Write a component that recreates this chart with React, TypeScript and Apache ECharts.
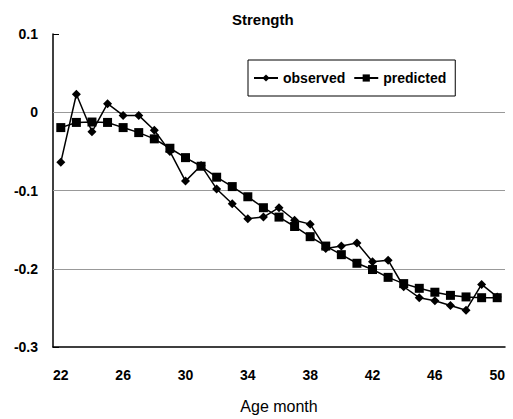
import React, { useEffect, useRef } from "react";
import * as echarts from "echarts";

const months = ["22","23","24","25","26","27","28","29","30","31","32","33","34","35","36","37","38","39","40","41","42","43","44","45","46","47","48","49","50"];
const observed = [-0.064, 0.023, -0.025, 0.011, -0.004, -0.004, -0.023, -0.05, -0.088, -0.068, -0.098, -0.117, -0.136, -0.134, -0.122, -0.138, -0.143, -0.174, -0.171, -0.167, -0.191, -0.189, -0.223, -0.237, -0.241, -0.247, -0.253, -0.22, -0.236];
const predicted = [-0.0196, -0.013, -0.0125, -0.013, -0.0196, -0.026, -0.034, -0.046, -0.058, -0.069, -0.083, -0.095, -0.108, -0.122, -0.134, -0.146, -0.159, -0.171, -0.182, -0.193, -0.201, -0.211, -0.219, -0.225, -0.23, -0.234, -0.236, -0.237, -0.237];
const gridValues = [0, -0.1, -0.2];

const FONT = "'Liberation Sans', Arial, sans-serif";

export default function App() {
  const ref = useRef<HTMLDivElement>(null);
  useEffect(() => {
    if (!ref.current) return;
    const chart = echarts.init(ref.current, null, { renderer: "svg" });
    chart.setOption({
      animation: false,
      backgroundColor: "#ffffff",
      title: {
        text: "Strength",
        left: 227,
        top: 7,
        textStyle: { fontFamily: FONT, fontSize: 15, fontWeight: "bold", color: "#000" },
      },
      legend: {
        left: 248,
        top: 60,
        orient: "horizontal",
        borderColor: "#000",
        borderWidth: 1,
        padding: [11, 9, 11, 5],
        itemGap: 8,
        itemWidth: 24,
        itemHeight: 9,
        textStyle: { fontFamily: FONT, fontSize: 14, fontWeight: "bold", color: "#000" },
        data: ["observed", "predicted"],
      },
      grid: { left: 53, top: 34, width: 452, height: 317, containLabel: false },
      xAxis: {
        type: "category",
        data: months,
        boundaryGap: true,
        name: "Age month",
        nameLocation: "middle",
        nameGap: 51,
        nameTextStyle: { fontFamily: FONT, fontSize: 16, color: "#000" },
        axisLine: { onZero: false, lineStyle: { color: "#000", width: 1.5 } },
        axisTick: { inside: true, length: 6, interval: 3, lineStyle: { color: "#000" } },
        axisLabel: { interval: 3, margin: 21, fontFamily: FONT, fontSize: 14, fontWeight: "bold", color: "#000" },
        splitLine: { show: false },
      },
      yAxis: {
        type: "value",
        min: -0.3,
        max: 0.1,
        interval: 0.1,
        axisLine: { show: true, lineStyle: { color: "#000", width: 1.5 } },
        axisTick: { show: true, inside: true, length: 6, lineStyle: { color: "#000" } },
        axisLabel: {
          margin: 15,
          fontFamily: FONT,
          fontSize: 14,
          fontWeight: "bold",
          color: "#000",
          formatter: (v: number) => (Math.abs(v) < 1e-9 ? "0" : String(Math.round(v * 10) / 10)),
        },
        splitLine: { show: false },
      },
      series: [
        {
          name: "observed",
          type: "line",
          data: observed,
          symbol: "diamond",
          symbolSize: 9,
          itemStyle: { color: "#000" },
          lineStyle: { color: "#000", width: 1.5 },
          z: 3,
          markLine: {
            silent: true,
            symbol: "none",
            label: { show: false },
            lineStyle: { color: "#999", width: 1, type: "solid" },
            data: gridValues.map((v) => ({ yAxis: v })),
            z: 1,
          },
        },
        {
          name: "predicted",
          type: "line",
          data: predicted,
          symbol: "rect",
          symbolSize: 9,
          itemStyle: { color: "#000" },
          lineStyle: { color: "#000", width: 1.5 },
          z: 2,
        },
      ],
    });
    return () => chart.dispose();
  }, []);
  return <div ref={ref} style={{ position: "fixed", left: 0, top: 0, width: 513, height: 419 }} />;
}
